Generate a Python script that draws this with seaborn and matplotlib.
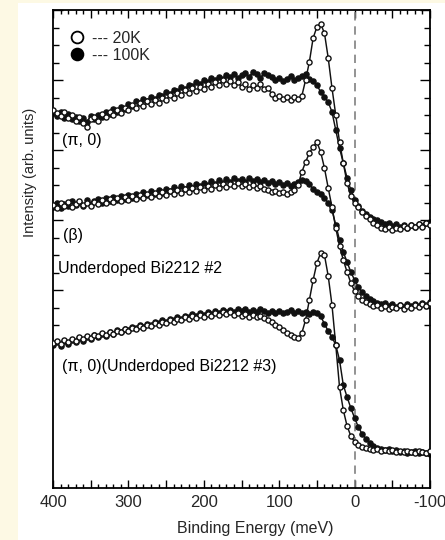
import matplotlib
matplotlib.use("Agg")
import matplotlib.pyplot as plt
from matplotlib.lines import Line2D
from matplotlib.patches import Rectangle
import seaborn as sns

# ---------------- data ----------------
energy = list(range(400, -101, -5))  # binding energy, meV

pi0_20K = [390, 387, 384, 388, 382, 385, 379, 383, 377, 373,
           381, 383, 379, 386, 383, 388, 385, 390, 387, 392,
           390, 395, 392, 397, 394, 399, 396, 400, 397, 402,
           400, 405, 402, 407, 405, 410, 407, 412, 409, 413,
           411, 416, 413, 418, 415, 420, 416, 419, 415, 418,
           413, 416, 411, 415, 412, 416, 411, 412, 406, 402,
           404, 401, 403, 400, 403, 401, 404, 420, 438, 462,
           473, 476, 467, 442, 412, 385, 358, 337, 317, 304,
           297, 293, 288, 284, 281, 277, 275, 272, 271, 273,
           270, 272, 271, 274, 272, 275, 273, 276, 273, 277,
           275]
pi0_100K = [387, 384, 388, 382, 386, 381, 383, 379, 382, 378,
            384, 381, 385, 383, 388, 386, 391, 388, 393, 391,
            396, 394, 399, 397, 401, 399, 403, 401, 405, 404,
            408, 406, 410, 409, 413, 411, 415, 414, 418, 416,
            420, 418, 422, 420, 423, 421, 425, 423, 426, 422,
            425, 427, 423, 428, 426, 422, 427, 425, 423, 420,
            422, 419, 421, 424, 420, 422, 424, 426, 421, 419,
            415, 408, 403, 398, 388, 370, 352, 337, 322, 310,
            300, 294, 289, 286, 283, 281, 280, 278, 276, 277,
            274, 276, 273, 275, 272, 275, 273, 276, 274, 277,
            278]
beta_20K = [295, 292, 297, 294, 298, 293, 296, 299, 295, 297,
            294, 298, 296, 300, 297, 301, 298, 302, 299, 303,
            300, 304, 301, 305, 302, 306, 303, 307, 304, 308,
            305, 309, 306, 310, 307, 311, 308, 312, 309, 313,
            310, 314, 311, 315, 312, 316, 313, 316, 314, 317,
            314, 316, 313, 315, 312, 314, 311, 310, 308, 309,
            307, 308, 306, 308, 310, 315, 328, 338, 347, 353,
            358, 348, 332, 312, 293, 272, 254, 240, 228, 217,
            209, 204, 200, 198, 196, 194, 195, 192, 194, 191,
            193, 192, 195, 191, 194, 192, 195, 193, 196, 194,
            197]
beta_100K = [293, 297, 292, 296, 294, 299, 295, 298, 294, 300,
             296, 299, 301, 297, 302, 299, 303, 300, 304, 301,
             305, 302, 306, 304, 308, 305, 309, 306, 310, 307,
             311, 309, 313, 310, 314, 311, 315, 312, 316, 314,
             317, 315, 319, 316, 320, 317, 321, 318, 322, 319,
             321, 318, 322, 319, 321, 318, 320, 317, 319, 316,
             318, 315, 317, 314, 316, 318, 320, 319, 316, 311,
             308, 306, 302, 297, 290, 275, 260, 248, 238, 228,
             220, 213, 208, 204, 201, 199, 197, 196, 197, 194,
             196, 193, 195, 193, 196, 194, 196, 194, 197, 195,
             198]
ud3_20K = [157, 159, 156, 160, 158, 161, 159, 163, 161, 164,
           162, 165, 164, 167, 165, 168, 166, 169, 168, 171,
           169, 172, 171, 174, 172, 175, 174, 177, 175, 178,
           177, 180, 178, 181, 180, 183, 181, 184, 182, 185,
           183, 186, 184, 187, 185, 188, 186, 188, 185, 187,
           184, 186, 183, 185, 183, 184, 182, 180, 178, 175,
           173, 170, 167, 165, 163, 162, 167, 180, 200, 220,
           237, 247, 245, 224, 195, 155, 113, 90, 74, 64,
           58, 55, 53, 52, 51, 50, 51, 49, 50, 49,
           50, 48, 49, 48, 49, 48, 47, 49, 48, 47,
           49]
ud3_100K = [155, 158, 154, 159, 156, 160, 158, 162, 159, 163,
            161, 165, 163, 166, 164, 168, 166, 170, 168, 171,
            170, 173, 172, 175, 173, 176, 175, 178, 177, 180,
            178, 181, 180, 183, 181, 184, 183, 186, 184, 187,
            185, 188, 186, 189, 187, 190, 188, 190, 188, 191,
            189, 191, 188, 190, 188, 191, 189, 187, 189, 187,
            189, 187, 188, 190, 187, 189, 187, 188, 186, 188,
            187, 184, 176, 169, 163, 155, 140, 115, 103, 92,
            82, 73, 66, 61, 57, 54, 52, 51, 50, 51,
            49, 50, 48, 49, 47, 48, 49, 47, 48, 47,
            46]

x_major = list(range(400, -101, -50))
x_labels = ["400", "", "300", "", "200", "", "100", "", "0", "", "-100"]
x_minor = list(range(400, -101, -10))
y_major = [490, 420, 350, 280, 210]
y_minor = [490 - 17.5 * k for k in range(19)]

# ---------------- style ----------------
sns.set_style("ticks")
plt.rcParams["font.family"] = ["Liberation Sans", "DejaVu Sans"]
plt.rcParams["axes.unicode_minus"] = False

W, H = 445, 540
fig = plt.figure(figsize=(W / 100, H / 100), dpi=100, facecolor="white")
ax = fig.add_axes([53 / W, 1 - 488 / H, (430 - 53) / W, (488 - 10) / H])
ax.set_facecolor("white")

cream = "#fdf9e4"
fig.patches.append(Rectangle((0, 0), 18 / W, 1, transform=fig.transFigure,
                             facecolor=cream, edgecolor="none", zorder=0))
fig.patches.append(Rectangle((0, 1 - 3 / H), 1, 3 / H, transform=fig.transFigure,
                             facecolor=cream, edgecolor="none", zorder=0))

ax.axvline(0, color="#808080", lw=1.2, ls=(0, (5, 3.5)), zorder=1)

common = dict(ax=ax, color="#111111", lw=1.05, marker="o", markersize=3.7,
              markeredgecolor="#111111", markeredgewidth=1.0, sort=False,
              estimator=None, legend=False)
for hi, lo in [(pi0_100K, pi0_20K), (beta_100K, beta_20K), (ud3_100K, ud3_20K)]:
    sns.lineplot(x=energy, y=hi, markerfacecolor="#111111", zorder=2, **common)
    sns.lineplot(x=energy, y=lo, markerfacecolor="white", zorder=3, **common)

ax.set_xlim(400, -100)
ax.set_ylim(12, 490)

ax.set_xticks(x_major, x_labels)
ax.set_xticks(x_minor, minor=True)
ax.set_yticks(y_major, [""] * len(y_major))
ax.set_yticks(y_minor, minor=True)
ax.tick_params(axis="both", which="both", direction="in", top=True, right=True,
               color="black", width=1.0)
ax.tick_params(axis="x", which="major", length=5.5, labelsize=12, pad=5)
ax.tick_params(axis="x", which="minor", length=3)
ax.tick_params(axis="y", which="major", length=7.5)
ax.tick_params(axis="y", which="minor", length=4.5)
for s in ax.spines.values():
    s.set_visible(True)
    s.set_color("black")
    s.set_linewidth(1.3)

ax.set_xlabel("Binding Energy (meV)", fontsize=11.5)
ax.xaxis.label.set_va("center")
ax.xaxis.set_label_coords((255 - 53) / 377, -(528 - 488) / 478)
ax.set_ylabel("Intensity (arb. units)", fontsize=10.5)
ax.yaxis.label.set_va("center")
ax.yaxis.set_label_coords((30 - 53) / 377, (488 - 172) / 478)

txt = dict(fontsize=11.5, ha="left", va="center", color="black")
ax.text(388, 360, "(π, 0)", **txt)
ax.text(387, 265, "(β)", **txt)
ax.text(393, 232, "Underdoped Bi2212 #2", **txt)
ax.text(388, 133, "(π, 0)(Underdoped Bi2212 #3)", **txt)

handles = [Line2D([], [], ls="none", marker="o", ms=8.5, mfc="white", mec="black", mew=1.3),
           Line2D([], [], ls="none", marker="o", ms=8.5, mfc="black", mec="black", mew=1.3)]
ax.legend(handles, ["--- 20K", "--- 100K"], loc="upper left",
          bbox_to_anchor=((70 - 53) / 377, (488 - 31) / 478), frameon=False,
          fontsize=11.5, handlelength=0.9, handletextpad=0.5, labelspacing=0.1,
          borderpad=0, borderaxespad=0)

fig.savefig("out.png", dpi=100, facecolor="white")
